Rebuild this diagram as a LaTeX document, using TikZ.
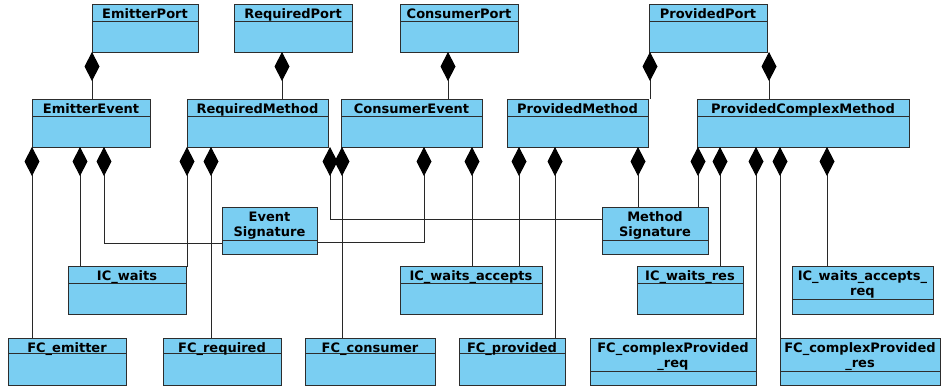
\documentclass[tikz,border=0pt]{standalone}
\usepackage{fontspec}
\setmainfont{DejaVu Sans}
\usetikzlibrary{arrows.meta}
\definecolor{clsfill}{RGB}{122,206,242}
\definecolor{clsline}{RGB}{45,45,45}
\definecolor{conline}{RGB}{40,40,40}
\tikzset{
  cls/.style={draw=clsline, fill=clsfill, line width=1pt, inner sep=0pt, outer sep=0pt, rectangle},
  divl/.style={draw=clsline, line width=1pt},
  hdr/.style={inner sep=0pt, align=center, anchor=north, font=\fontsize{13}{15.7}\selectfont\bfseries},
  comp/.style={draw=conline, line width=0.9pt, {Diamond[length=29pt,width=15pt,color=black]}-},
}
% name, x1, y1, x2, y2, y of divider, text (baseline at y1+14)
\newcommand\umlclass[7]{%
  \node[cls, anchor=north west, minimum width={(#4)-(#2)}, minimum height={(#5)-(#3)}] (#1) at (#2,#3) {};
  \draw[divl] (#2,#6) -- (#4,#6);
  \node[hdr] (#1-t) at ({((#2)+(#4))/2},{(#3)+14-10.99}) {\strut #7};
}
\begin{document}
\begin{tikzpicture}[x=1pt,y=-1pt]
\useasboundingbox (0,0) rectangle (941,391);
% top row
\umlclass{EP}{92}{4}{198}{52}{21}{EmitterPort}
\umlclass{RP}{234}{4}{352}{52}{21}{RequiredPort}
\umlclass{CP}{400}{4}{518}{52}{21}{ConsumerPort}
\umlclass{PP}{649}{4}{767}{52}{21}{ProvidedPort}
% second row
\umlclass{EE}{32}{99}{150}{147}{116}{EmitterEvent}
\umlclass{RM}{187}{99}{328}{147}{116}{RequiredMethod}
\umlclass{CE}{341}{99}{482}{147}{116}{ConsumerEvent}
\umlclass{PM}{507}{99}{648}{147}{116}{ProvidedMethod}
\umlclass{PCM}{697}{99}{909}{147}{116}{ProvidedComplexMethod}
% signatures
\umlclass{ES}{222}{207}{317}{254}{240}{Event\\Signature}
\umlclass{MS}{602}{207}{708}{254}{240}{Method\\Signature}
% IC row
\umlclass{ICW}{68}{266}{186}{314}{283}{IC\_waits}
\umlclass{ICWA}{400}{266}{542}{314}{283}{IC\_waits\_accepts}
\umlclass{ICWR}{637}{266}{743}{314}{283}{IC\_waits\_res}
\umlclass{ICWAR}{792}{266}{933}{314}{299}{IC\_waits\_accepts\_\\req}
% FC row
\umlclass{FCE}{8}{338}{126}{385}{353}{FC\_emitter}
\umlclass{FCR}{163}{338}{281}{385}{353}{FC\_required}
\umlclass{FCC}{305}{338}{435}{385}{353}{FC\_consumer}
\umlclass{FCP}{459}{338}{565}{385}{353}{FC\_provided}
\umlclass{FCPR}{590}{338}{756}{385}{371}{FC\_complexProvided\\\_req}
\umlclass{FCPS}{780}{338}{940}{385}{371}{FC\_complexProvided\\\_res}
% compositions from top row
\draw[comp] (EP.south west) -- ([xshift=60pt]EE.north west);
\draw[comp] ([xshift=48pt]RP.south west) -- ([xshift=95pt]RM.north west);
\draw[comp] ([xshift=48pt]CP.south west) -- ([xshift=107pt]CE.north west);
\draw[comp] ([xshift=1pt]PP.south west) -- ([xshift=143pt]PM.north west);
\draw[comp] ([xshift=2pt]PP.south east) -- ([xshift=72pt]PCM.north west);
% EmitterEvent
\draw[comp] (EE.south west) -- ([xshift=24pt]FCE.north west);
\draw[comp] ([xshift=48pt]EE.south west) -- ([xshift=12pt]ICW.north west);
\draw[comp] ([xshift=72pt]EE.south west) |- ([yshift=-36pt]ES.north west);
% RequiredMethod
\draw[comp] (RM.south west) |- (ICW.north east);
\draw[comp] ([xshift=24pt]RM.south west) -- ([xshift=48pt]FCR.north west);
\draw[comp] ([xshift=2pt]RM.south east) |- ([yshift=-12pt]MS.north west);
% ConsumerEvent
\draw[comp] ([xshift=1pt]CE.south west) -- ([xshift=37pt]FCC.north west);
\draw[comp] ([xshift=83pt]CE.south west) |- ([yshift=-35pt]ES.north east);
\draw[comp] ([xshift=131pt]CE.south west) -- ([xshift=72pt]ICWA.north west);
% ProvidedMethod
\draw[comp] ([xshift=12pt]PM.south west) -- ([xshift=119pt]ICWA.north west);
\draw[comp] ([xshift=48pt]PM.south west) -- ([xshift=96pt]FCP.north west);
\draw[comp] ([xshift=131pt]PM.south west) -- ([xshift=36pt]MS.north west);
% ProvidedComplexMethod
\draw[comp] ([xshift=1pt]PCM.south west) -- ([xshift=96pt]MS.north west);
\draw[comp] ([xshift=23pt]PCM.south west) -- ([xshift=83pt]ICWR.north west);
\draw[comp] ([xshift=59pt]PCM.south west) -- (FCPR.north east);
\draw[comp] ([xshift=83pt]PCM.south west) -- (FCPS.north west);
\draw[comp] ([xshift=130pt]PCM.south west) -- ([xshift=35pt]ICWAR.north west);
\end{tikzpicture}
\end{document}
